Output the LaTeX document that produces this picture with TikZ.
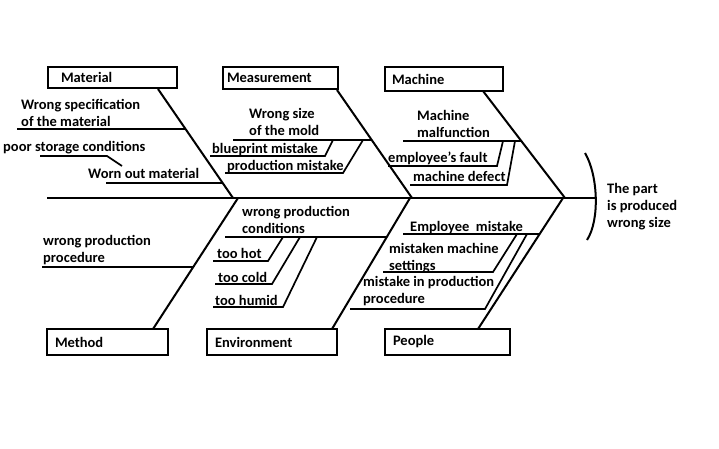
\documentclass[tikz,border=0pt]{standalone}
\usepackage{fontspec}
\setmainfont{Carlito}

\begin{document}
\begin{tikzpicture}[x=1pt, y=-1pt,
    font=\bfseries\fontsize{14.5}{17}\selectfont,
    bone/.style={line width=2pt},
    twig/.style={line width=1.7pt},
    catbox/.style={draw, line width=1.5pt, inner xsep=8pt, inner ysep=0pt, align=left},
    lbl/.style={anchor=base west, inner sep=0pt, align=left}]
  \useasboundingbox (0,0) rectangle (719,448);

  % category boxes
  \node[catbox, inner xsep=13pt, text width=103pt, minimum height=21pt] (material) at (112.5,77.5) {Material};
  \node[catbox, inner xsep=4pt, text width=107pt, minimum height=22pt] (measurement) at (280.5,78) {Measurement};
  \node[catbox, inner xsep=7pt, text width=104pt, minimum height=24pt] (machine) at (444,79) {Machine};
  \node[catbox, text width=105pt, minimum height=26pt] (method) at (107.5,342) {Method};
  \node[catbox, text width=114pt, minimum height=26pt] (environment) at (272,342) {Environment};
  \node[catbox, text width=109pt, minimum height=26pt] (people) at (447.5,342) {People};

  % joints of the bones
  \foreach \n/\x/\y in {tail/47/198, head/595/198,
      ma0/158/89, ma1/233/198, me0/337/90, me1/412/198, mc0/483/91, mc1/565/198,
      mt0/153/329, mt1/238/198, en0/332/329, en1/410/198, pe0/478/329, pe1/563/198,
      spec1/17/129, spec2/185/129, worn1/106/183, worn2/223/183,
      stor1/40/156, stor2/107/156, stor3/122/166,
      size1/233/140, size2/372/140,
      blue1/210/156, blue2/325/156, blue3/333/140,
      prod1/225/173, prod2/343/173, prod3/363/140,
      malf1/403/141, malf2/521/141,
      fault1/388/166, fault2/497/166, fault3/503/141,
      def1/410/185, def2/507/185, def3/515/141,
      proc1/42/267, proc2/193/267,
      cond1/225/237, cond2/387/237,
      hot1/213/261, hot2/268/261, hot3/283/237,
      cold1/215/284, cold2/272/284, cold3/300/237,
      humid1/213/307, humid2/283/307, humid3/317/237,
      empl1/403/234, empl2/540/234,
      sett1/383/272, sett2/493/272, sett3/517/234,
      pproc1/350/309, pproc2/485/309, pproc3/527/234,
      arctop/585/153, arcbot/587/240}
    \coordinate (\n) at (\x,\y);

  % spine, head and main bones
  \draw[bone] (tail) -- (head);
  \draw[bone] (arctop) .. controls (598,175) and (600,220) .. (arcbot);
  \foreach \a/\b in {ma0/ma1, me0/me1, mc0/mc1, mt0/mt1, en0/en1, pe0/pe1}
    \draw[bone] (\a) -- (\b);

  % twigs
  \foreach \a/\b in {spec1/spec2, worn1/worn2, size1/size2, malf1/malf2,
      proc1/proc2, cond1/cond2, empl1/empl2}
    \draw[twig] (\a) -- (\b);
  \foreach \a/\b/\c in {stor1/stor2/stor3, blue1/blue2/blue3, prod1/prod2/prod3,
      fault1/fault2/fault3, def1/def2/def3, hot1/hot2/hot3, cold1/cold2/cold3,
      humid1/humid2/humid3, sett1/sett2/sett3, pproc1/pproc2/pproc3}
    \draw[twig] (\a) -- (\b) -- (\c);

  % causes
  \node[lbl] (spec) at (21,126) {Wrong specification\\of the material};
  \node[lbl] (storage) at (3,151) {poor storage conditions};
  \node[lbl] (worn) at (88,178) {Worn out material};
  \node[lbl] (size) at (249,135) {Wrong size\\of the mold};
  \node[lbl] (blueprint) at (212,153) {blueprint mistake};
  \node[lbl] (prodmistake) at (227,170) {production mistake};
  \node[lbl] (malfunction) at (417,137) {Machine\\malfunction};
  \node[lbl] (fault) at (388,162) {employee's fault};
  \node[lbl] (defect) at (413,181) {machine defect};
  \node[lbl] (procedure) at (43,262) {wrong production\\procedure};
  \node[lbl] (conditions) at (242,233) {wrong production\\conditions};
  \node[lbl] (hot) at (217,258) {too hot};
  \node[lbl] (cold) at (218,282) {too cold};
  \node[lbl] (humid) at (215,305) {too humid};
  \node[lbl] (employee) at (410,231) {Employee\ \ mistake};
  \node[lbl] (settings) at (389,270) {mistaken machine\\settings};
  \node[lbl] (prodproc) at (363,303) {mistake in production\\procedure};

  % effect
  \node[lbl] (effect) at (607,227) {The part\\is produced\\wrong size};
\end{tikzpicture}
\end{document}
